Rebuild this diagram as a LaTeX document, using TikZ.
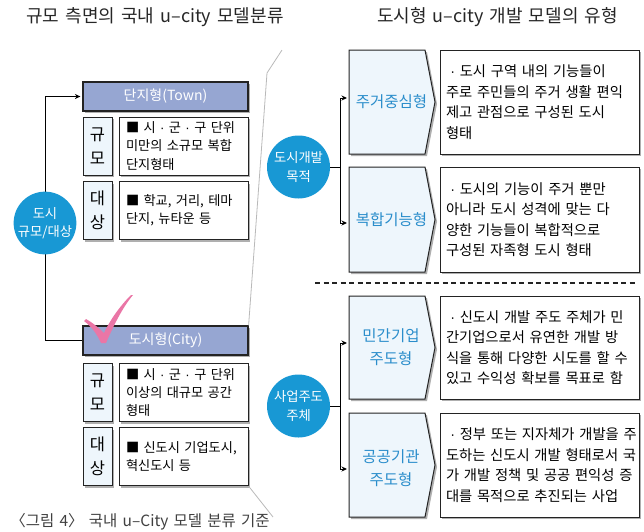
\documentclass[tikz,border=0pt]{standalone}
\usepackage{fontspec}
\setmainfont{Noto Sans CJK KR}[WordSpace=1.5]
\newfontfamily\dotf{Liberation Sans}
\newcommand\md{{\dotf ·}}
\newcommand\myln[1]{\makebox[0pt][l]{#1}}
\usetikzlibrary{arrows.meta,shadows}
\pgfdeclarelayer{bg}
\pgfsetlayers{bg,main}
\definecolor{barc}{RGB}{150,166,210}
\definecolor{circc}{RGB}{24,152,212}
\definecolor{lblc}{RGB}{238,246,252}
\definecolor{bluet}{RGB}{42,141,203}
\definecolor{pinkc}{RGB}{234,118,166}
\definecolor{shc}{RGB}{175,175,175}
\definecolor{edgec}{RGB}{35,35,35}
\newcommand\mypent[2]{%
  \fill[shc,shift={(2,2)}] (349,#1) -- (425,#1) -- (435,{(#1+#2)/2}) -- (425,#2) -- (349,#2) -- cycle;
  \draw[draw=edgec,line width=1pt,fill=lblc] (349,#1) -- (425,#1) -- (435,{(#1+#2)/2}) -- (425,#2) -- (349,#2) -- cycle;}
\begin{document}
\begin{tikzpicture}[x=1pt,y=-1pt,
  shd/.style={drop shadow={shadow xshift=2pt,shadow yshift=-2pt,fill=shc,opacity=1}},
  bar/.style={shd,draw=edgec,line width=1.2pt,fill=barc,minimum width=165pt,minimum height=29pt,inner sep=0pt,text=white,font=\fontsize{14}{17}\selectfont},
  lab/.style={shd,draw=edgec,line width=1pt,fill=lblc,minimum width=29pt,minimum height=58pt,inner sep=0pt,align=center,font=\fontsize{16.5}{24}\selectfont},
  txt/.style={shd,draw=edgec,line width=1pt,fill=white,text width=115pt,inner xsep=7pt,inner ysep=0pt,minimum height=58pt,align=left,font=\fontsize{13.2}{18.3}\selectfont},
  circ/.style={circle,fill=circc,text=white,inner sep=0pt,align=center,font=\fontsize{13.3}{18.5}\selectfont},
  rtxt/.style={shd,draw=edgec,line width=1pt,fill=white,text width=187pt,inner xsep=6pt,inner ysep=0pt,align=left,font=\fontsize{14.3}{20.5}\selectfont},
  rlbl/.style={text=bluet,align=center,font=\fontsize{15.5}{23}\selectfont},
  conn/.style={line width=1pt,draw=black},
  arr/.style={conn,-{Stealth[length=5.5pt,width=5pt]},shorten >=2pt},
  zoomln/.style={draw=gray!55,line width=0.8pt}]
\useasboundingbox (0,0) rectangle (644,531);

% titles
\node[font=\fontsize{18}{20}\selectfont,text=black!85] (t1) at (155,17) {규모 측면의 국내 u–city 모델분류};
\node[font=\fontsize{18}{20}\selectfont,text=black!85] (t2) at (497.5,17) {도시형 u–city 개발 모델의 유형};

% left part
\node[bar] (town) at (165.5,96.5) {단지형(Town)};
\node[lab] (tsl) at (97.5,146) {규\\모};
\node[txt] (tst) at (183.5,146) {\myln{■ 시 \md{} 군 \md{} 구 단위}\\\myln{미만의 소규모 복합}\\\myln{단지형태}};
\node[lab] (tol) at (97.5,210.5) {대\\상};
\node[txt] (tot) at (183.5,210.5) {\myln{■ 학교, 거리, 테마}\\\myln{단지, 뉴타운 등}};

\node[bar] (city) at (165.5,340.5) {도시형(City)};
\node[lab] (csl) at (97.5,392.5) {규\\모};
\node[txt] (cst) at (183.5,392.5) {\myln{■ 시 \md{} 군 \md{} 구 단위}\\\myln{이상의 대규모 공간}\\\myln{형태}};
\node[lab] (col) at (97.5,456.5) {대\\상};
\node[txt] (cot) at (183.5,456.5) {\myln{■ 신도시 기업도시,}\\\myln{혁신도시 등}};

\node[circ,minimum size=60pt] (c1) at (45,223) {도시\\규모/대상};
\begin{pgfonlayer}{bg}
\draw[conn] (city.west) -| (c1.center);
\draw[arr] (c1.center) |- (town.west);
\end{pgfonlayer}

% check mark
\fill[pinkc] (84,321) .. controls (92,327) and (97,334) .. (101,343)
  -- (106,343) .. controls (113,327) and (122,308) .. (133,295)
  -- (131,295) .. controls (120,306) and (110,320) .. (104,333)
  .. controls (99,328) and (93,323) .. (86,319) -- cycle;

% zoom lines
\draw[zoomln] (city.north east) -- (267,73) -- (282,50);
\draw[zoomln] (cot.south east) -- (273,517);

% right part
\mypent{50}{154}
\mypent{167}{272}
\mypent{296}{399}
\mypent{413}{517}
\node[rlbl] (s1) at (391.5,102) {주거중심형};
\node[rlbl] (s2) at (391.5,220) {복합기능형};
\node[rlbl] (s3) at (391,347) {민간기업\\주도형};
\node[rlbl] (s4) at (391,468) {공공기관\\주도형};
\coordinate (s1w) at (349,98);
\coordinate (s2w) at (349,223);
\coordinate (s3w) at (349,343);
\coordinate (s4w) at (349,469);

\node[rtxt,minimum height=104pt] (r1) at (539.5,102) {\myln{\hspace{0.3em}\md{} 도시 구역 내의 기능들이}\\\myln{주로 주민들의 주거 생활 편익}\\\myln{제고 관점으로 구성된 도시}\\\myln{형태}};
\node[rtxt,minimum height=105pt] (r2) at (539.5,219.5) {\myln{\hspace{0.3em}\md{} 도시의 기능이 주거 뿐만}\\\myln{아니라 도시 성격에 맞는 다}\\\myln{양한 기능들이 복합적으로}\\\myln{구성된 자족형 도시 형태}};
\node[rtxt,minimum height=103pt] (r3) at (539.5,347.5) {\myln{\hspace{0.3em}\md{} 신도시 개발 주도 주체가 민}\\\myln{간기업으로서 유연한 개발 방}\\\myln{식을 통해 다양한 시도를 할 수}\\\myln{있고 수익성 확보를 목표로 함}};
\node[rtxt,minimum height=104pt] (r4) at (539.5,465) {\myln{\hspace{0.3em}\md{} 정부 또는 지자체가 개발을 주}\\\myln{도하는 신도시 개발 형태로서 국}\\\myln{가 개발 정책 및 공공 편익성 증}\\\myln{대를 목적으로 추진되는 사업}};

\node[circ,minimum size=63pt] (c2) at (298.5,167) {도시개발\\목적};
\node[circ,minimum size=63pt] (c3) at (298.5,406) {사업주도\\주체};
\coordinate (j1) at (340,167);
\coordinate (j2) at (340,406);
\draw[conn] (c2.east) -- (j1);
\draw[arr] (j1) |- (s1w);
\draw[arr] (j1) |- (s2w);
\draw[conn] (c3.east) -- (j2);
\draw[arr] (j2) |- (s3w);
\draw[arr] (j2) |- (s4w);

\draw[edgec,line width=1.2pt,dash pattern=on 5pt off 3.5pt] (315,283) -- (637,283);

% caption
\node[font=\fontsize{15.5}{18}\selectfont,text=black!75] (cap) at (140,522) {〈그림 4〉 국내 u–City 모델 분류 기준};
\end{tikzpicture}
\end{document}
